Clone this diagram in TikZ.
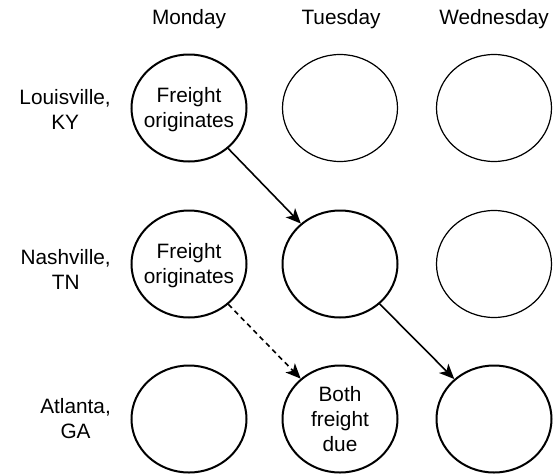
\documentclass[tikz,border=0pt]{standalone}
\usepackage{fontspec}
\setmainfont{Liberation Sans}
\usetikzlibrary{shapes.geometric,arrows.meta}
\begin{document}
\begin{tikzpicture}[x=1pt,y=-1pt,
  every node/.style={font=\fontsize{20.8}{25}\selectfont, inner sep=0pt},
  slot/.style={ellipse, draw, minimum width=115pt, minimum height=107pt},
  thick slot/.style={slot, line width=2pt},
  thin slot/.style={slot, line width=1.2pt},
  lbl/.style={align=center},
  lbl2/.style={align=center, yshift=-2pt},
  rowlbl/.style={align=center, anchor=east},
  collbl/.style={anchor=base},
  conn/.style={line width=1.6pt, -{Stealth[length=15pt,width=13pt,inset=4pt]}},
  dconn/.style={conn, dash pattern=on 5pt off 4pt}
]
\fill[white] (0,0) rectangle (557,474);
\useasboundingbox (0,0) rectangle (557,474);

% column headers
\node[collbl] (hMon) at (189,24) {Monday};
\node[collbl] (hTue) at (341,24) {Tuesday};
\node[collbl] (hWed) at (494,24) {Wednesday};

% row labels
\node[rowlbl] (rL) at (111,109) {Louisville,\\KY};
\node[rowlbl] (rN) at (111,269) {Nashville,\\TN};
\node[rowlbl] (rA) at (111,419) {Atlanta,\\GA};

% slots
\node[thick slot, label={[lbl2]center:Freight\\originates}] (LM) at (189,108) {};
\node[thin slot] (LT) at (340,108) {};
\node[thin slot] (LW) at (494,108) {};

\node[thick slot, label={[lbl2]center:Freight\\originates}] (NM) at (189,264) {};
\node[thick slot] (NT) at (340,264) {};
\node[thin slot] (NW) at (494,264) {};

\node[thick slot] (AM) at (189,419) {};
\node[thick slot, label={[lbl]center:Both\\freight\\due}] (AT) at (340,419) {};
\node[thick slot] (AW) at (494,419) {};

% connectors
\draw[conn] (LM) -- (NT);
\draw[conn] (NT) -- (AW);
\draw[dconn] (NM) -- (AT);
\end{tikzpicture}
\end{document}
